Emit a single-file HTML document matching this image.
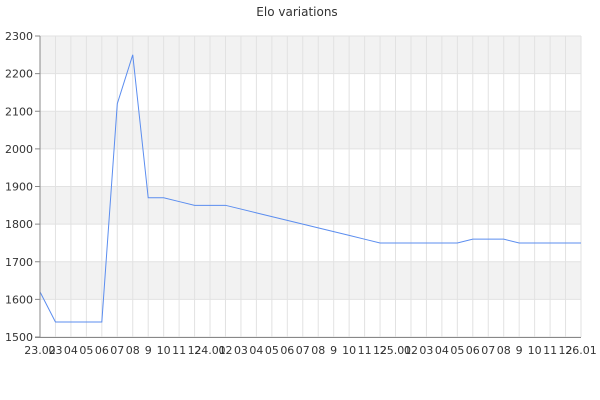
<!DOCTYPE html>
<html><head><meta charset="utf-8"><style>body{margin:0;background:#fff}svg{display:block;font-family:"DejaVu Sans","Liberation Sans",sans-serif}</style></head>
<body>
<svg width="600" height="400" xmlns="http://www.w3.org/2000/svg">
<text x="297" y="16" font-size="12" text-anchor="middle" fill="#333">Elo variations</text>
<g fill="#f2f2f2">
<rect x="40" y="36" width="541" height="37.6"/>
<rect x="40" y="111.3" width="541" height="37.6"/>
<rect x="40" y="186.5" width="541" height="37.6"/>
<rect x="40" y="261.8" width="541" height="37.6"/>
</g>
<g id="grid" stroke="#e2e2e2" stroke-width="1"></g>
<g id="labels" font-size="11" fill="#333"></g>
<polyline id="line" fill="none" stroke="#5b8def" stroke-width="1"/>
<line x1="40" y1="36" x2="40" y2="337.5" stroke="#888"/>
<line x1="35" y1="337.5" x2="581" y2="337.5" stroke="#888"/>
</svg>
<script>
var ns="http://www.w3.org/2000/svg",g=document.getElementById('grid'),lb=document.getElementById('labels');
function el(t,a,p){var e=document.createElementNS(ns,t);for(var k in a)e.setAttribute(k,a[k]);p.appendChild(e);return e;}
function Y(v){return 337-(v-1500)*0.37625;}
var S=541/35;
for(var i=0;i<=35;i++){var x=40+i*S;el('line',{x1:x,y1:36,x2:x,y2:337},g);
var m=(i+1)%12,t;
if(i==0)t='23.02';else if(m==0)t=(23+(i+1)/12)+'.01';else t=(m+1==9?'9':(m+1<10?'0'+(m+1):''+(m+1)));
var tx=el('text',{x:x,y:354,'text-anchor':'middle'},lb);tx.textContent=t;}
for(var v=1500;v<=2300;v+=100){var y=Y(v);el('line',{x1:40,y1:y,x2:581,y2:y},g);el('line',{x1:35,y1:y,x2:40,y2:y,stroke:'#888'},g);
var tt=el('text',{x:33,y:y+4,'text-anchor':'end'},lb);tt.textContent=v;}
var d=[1620,1540,1540,1540,1540,2120,2250,1870,1870,1860,1850,1850,1850,1840,1830,1820,1810,1800,1790,1780,1770,1760,1750,1750,1750,1750,1750,1750,1760,1760,1760,1750,1750,1750,1750,1750];
var p=d.map(function(v,i){return (40+i*S)+','+Y(v);}).join(' ');
document.getElementById('line').setAttribute('points',p);
</script>
</body></html>
